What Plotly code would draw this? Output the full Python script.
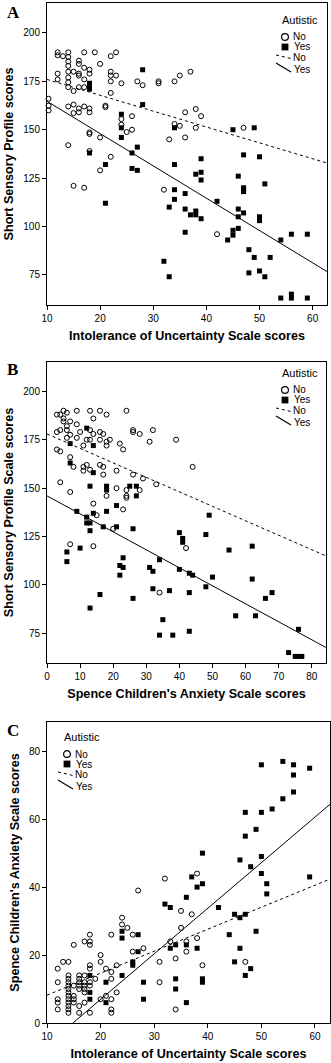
import plotly.graph_objects as go

# ---------------- Panel A: IUS vs Short Sensory Profile ----------------
a_no_x = [12, 12, 13, 14, 14, 14, 14, 16, 16, 17, 19, 22, 23, 12, 12, 14, 14, 14, 15, 16,
          16, 17, 18, 18, 17, 20, 22, 22, 23, 22, 24, 27, 28, 31, 31, 34, 35, 37, 14, 15,
          16, 17, 22, 10.3, 10.3, 10.3, 14, 15, 16, 15, 16, 17, 18, 18, 21, 21, 14, 18, 18, 20,
          24, 24, 26, 25, 26, 22, 20, 34, 35, 36, 36, 38, 39, 38, 33, 47, 15, 17, 32, 42,
          18]
a_no_y = [190, 188.5, 188, 190, 187.6, 185.3, 183, 185.7, 184, 190, 190, 188, 190, 179, 176, 180, 177, 174.5, 180, 179,
          178, 182, 181, 179, 176, 184, 180, 178, 178, 175, 174, 175, 173, 175, 174, 175, 178, 180, 172, 170,
          172, 172, 169, 166, 162.4, 160, 162, 163, 161, 158.6, 159, 162, 161, 159, 162.4, 161.7, 142, 148.6, 147.8, 146,
          155.5, 152.6, 157, 148.8, 150, 136, 129, 153, 152, 159, 146, 160.7, 157, 151, 145, 151, 121, 120, 119, 96,
          139]
a_yes_x = [18, 18, 18, 28, 28, 24, 24, 24, 18, 27, 26, 26, 27, 21, 34, 34, 39, 47, 50, 45,
           49, 38, 39, 46, 21, 39, 47, 47, 47, 51, 34, 34, 36, 33, 42, 36, 37, 38, 38, 39,
           46, 47, 46, 50, 50, 36, 44, 45, 46, 48, 49, 52, 54, 56, 59, 32, 33, 48, 50, 51,
           54, 56, 56, 59, 45]
a_yes_y = [174, 173, 171, 181, 163, 158, 151, 146, 138, 141, 138, 130, 129, 132, 151, 132, 135, 137, 136, 150,
           151, 127, 128, 126, 112, 124, 120, 119, 118, 122, 119, 114, 117, 110, 113, 109, 106, 106, 108, 104,
           109, 107, 105, 105, 103, 97, 93, 95.5, 99, 88, 84, 84, 93, 96, 96, 82, 74, 76, 77, 74,
           63, 65, 63, 63, 98]
# fitted regression lines: [value at x = 0, slope]
a_fit_no = [184.2, -0.82]
a_fit_yes = [181.4, -1.67]

# ---------------- Panel B: SCAS vs Short Sensory Profile ----------------
b_no_x = [3, 4, 5, 6, 9, 13, 16, 18, 24, 14, 9, 10, 9, 13, 14, 13, 12, 11, 16, 17,
          16, 18, 19, 18, 22, 23, 26, 26, 28, 32, 31, 39, 44, 3, 4, 7, 8, 11, 11, 12,
          13, 16, 17, 17, 21, 26, 29, 33, 4, 7, 21, 18, 24, 24, 24, 28, 14, 15, 23, 7,
          14, 42, 34, 20, 5, 5, 7, 6, 4, 3, 6, 7, 6]
b_no_y = [188, 188, 190, 189, 190, 190, 190, 188, 190, 186, 183, 179, 176, 180, 178, 175, 175, 172, 179, 178,
          175, 174, 175, 172, 173, 170, 180, 179, 178, 180, 174, 175, 161, 170, 169, 166, 161, 161, 159, 162,
          159.5, 162, 161, 157, 159, 157, 155, 152, 153, 148, 150, 146, 149, 146, 145, 149, 142, 136, 139, 121,
          120, 119, 96, 129, 186, 184.5, 184.5, 182, 180, 179, 180, 177.6, 176]
b_yes_x = [12, 7, 14, 7, 14, 13, 18, 18, 25, 27, 27, 21, 18, 9, 12, 14, 12, 13, 49, 13,
           17, 21, 26, 6, 6, 10, 22, 22, 23, 23, 16, 13, 26, 31, 32, 34, 32, 37, 40, 41,
           41, 40, 43, 44, 43, 48, 48, 50, 55, 62, 62, 35, 34, 38, 43, 57, 63, 66, 68, 76,
           73, 75, 76, 77]
b_yes_y = [181, 173, 172, 163, 158, 151, 151, 149, 151, 151, 146, 141, 138, 138, 135, 137, 132, 132, 136, 128,
           130, 130, 129, 117, 112, 119, 110, 105, 114, 109, 95, 88, 93, 109, 107, 113, 98, 97, 127, 124,
           122, 108, 106, 105, 96, 126, 99, 104, 118, 120, 103, 82, 74, 74, 76, 84, 84, 93, 96, 77,
           65, 63, 63, 63]
b_fit_no = [178.0, -0.748]
b_fit_yes = [146.0, -0.93]

# ---------------- Panel C: IUS vs SCAS ----------------
c_no_x = [38, 32, 27, 37, 35, 35, 33, 38, 36, 36, 34, 31, 31, 39, 47, 34, 26, 28, 24, 24,
          25, 26, 22, 20, 20, 21, 22, 23, 22, 23, 21, 20, 22, 22, 22, 17, 18, 18, 15, 12,
          12, 13, 14, 12, 12, 12, 18, 14, 14, 14, 14, 14, 14, 14, 14, 14, 14, 14, 14, 15,
          15, 15, 15, 16, 16, 16, 16, 16, 16, 16, 17, 17, 17, 17, 17, 17, 18, 18, 18, 18,
          18, 19]
c_no_y = [44, 42.5, 39, 32, 33, 28, 24, 25, 24, 21, 19, 18, 12, 17, 18, 4, 21, 22, 31, 29,
          28, 26, 26, 20, 18, 16, 15, 17, 13, 9, 8, 7, 7, 4, 3, 24, 24, 23, 23, 16,
          12, 18, 18, 7, 6, 4, 26, 14, 13, 12, 11, 10, 9, 8, 7, 6, 5, 4, 3, 11,
          8, 7, 6, 14, 13, 12, 11, 10, 5, 3, 14, 12, 11, 10, 9, 6, 17, 16, 12, 11,
          3, 13]
c_yes_x = [50, 54, 56, 56, 59, 47, 50, 52, 54, 56, 47, 49, 39, 46, 50, 48, 50, 37, 59, 39,
           38, 36, 32, 33, 42, 51, 51, 45, 47, 46, 44, 49, 24, 24, 27, 27, 33, 34, 36, 38,
           46, 45, 48, 47, 26, 26, 18, 24, 21, 18, 18, 28, 28, 34, 34, 39, 39, 36, 21]
c_yes_y = [76, 77, 76, 73, 75, 62, 62, 63, 66, 68, 55, 57, 50, 48, 49, 46, 44, 43, 43, 41,
           40, 37, 35, 34, 34, 41, 38, 32, 32, 31, 26, 27, 27, 25, 26, 21, 22, 23, 23, 22,
           22, 18, 16, 14, 18, 17, 14, 14, 12, 9, 7, 12, 7, 13, 10, 13, 12, 6, 6]
c_fit_no = [1.73, 0.647]
c_fit_yes = [-19.9, 1.342]

legend_title = "Autistic"
group_labels = ["No", "Yes"]

for nm, xs, ys in [("a_no", a_no_x, a_no_y), ("a_yes", a_yes_x, a_yes_y),
                   ("b_no", b_no_x, b_no_y), ("b_yes", b_yes_x, b_yes_y),
                   ("c_no", c_no_x, c_no_y), ("c_yes", c_yes_x, c_yes_y)]:
    if len(xs) != len(ys):
        raise ValueError(f"{nm}: {len(xs)} x vs {len(ys)} y")

FONT = "Liberation Sans, Arial, sans-serif"
W, H = 331.0, 1063.0

panels = [
    dict(ax="x", ay="y", no=(a_no_x, a_no_y), yes=(a_yes_x, a_yes_y),
         fno=a_fit_no, fyes=a_fit_yes, xr=[10, 62.7], yes_x0=10),
    dict(ax="x2", ay="y2", no=(b_no_x, b_no_y), yes=(b_yes_x, b_yes_y),
         fno=b_fit_no, fyes=b_fit_yes, xr=[0, 84.3], yes_x0=0),
    dict(ax="x3", ay="y3", no=(c_no_x, c_no_y), yes=(c_yes_x, c_yes_y),
         fno=c_fit_no, fyes=c_fit_yes, xr=[10, 62.8], yes_x0=14.8),
]

fig = go.Figure()
for p in panels:
    fig.add_trace(go.Scatter(
        x=p["no"][0], y=p["no"][1], mode="markers", name=group_labels[0], showlegend=False,
        marker=dict(symbol="circle-open", size=5, color="black", line=dict(width=1)),
        xaxis=p["ax"], yaxis=p["ay"], cliponaxis=False))
    fig.add_trace(go.Scatter(
        x=p["yes"][0], y=p["yes"][1], mode="markers", name=group_labels[1], showlegend=False,
        marker=dict(symbol="square", size=5, color="black"),
        xaxis=p["ax"], yaxis=p["ay"], cliponaxis=False))
    fx = p["xr"]
    fig.add_trace(go.Scatter(
        x=fx, y=[p["fno"][0] + p["fno"][1] * v for v in fx], showlegend=False,
        mode="lines", name=group_labels[0], line=dict(color="black", width=1, dash="dot"),
        xaxis=p["ax"], yaxis=p["ay"]))
    fyx = [p["yes_x0"], p["xr"][1]]
    fig.add_trace(go.Scatter(
        x=fyx, y=[p["fyes"][0] + p["fyes"][1] * v for v in fyx], showlegend=False,
        mode="lines", name=group_labels[1], line=dict(color="black", width=1),
        xaxis=p["ax"], yaxis=p["ay"]))


def ydom(top, bottom):
    return [1 - bottom / H, 1 - top / H]


axis_common = dict(showline=True, mirror=True, linecolor="black", linewidth=1,
                   ticks="outside", ticklen=4, tickcolor="black", showgrid=False,
                   zeroline=False, tickfont=dict(family=FONT, size=10, color="black"),
                   automargin=False)
title_font = dict(family=FONT, size=12.6, color="black", weight="bold")

fig.update_layout(
    width=331, height=1063, margin=dict(l=0, r=0, t=0, b=0),
    paper_bgcolor="white", plot_bgcolor="white", showlegend=False,
    xaxis=dict(domain=[47 / W, 327 / W], range=[10, 62.7], tickvals=[10, 20, 30, 40, 50, 60],
               anchor="y", title=dict(text="Intolerance of Uncertainty Scale scores",
                                      font=title_font, standoff=8), **axis_common),
    yaxis=dict(domain=ydom(3, 305), range=[59.4, 215.5], tickvals=[75, 100, 125, 150, 175, 200],
               anchor="x", title=dict(text="Short Sensory Profile scores", font=title_font,
                                      standoff=6), **axis_common),
    xaxis2=dict(domain=[47 / W, 326 / W], range=[0, 84.3], tickvals=list(range(0, 81, 10)),
                anchor="y2", title=dict(text="Spence Children's Anxiety Scale scores",
                                        font=title_font, standoff=8), **axis_common),
    yaxis2=dict(domain=ydom(362, 663), range=[59.6, 215.2], tickvals=[75, 100, 125, 150, 175, 200],
                anchor="x2", title=dict(text="Short Sensory Profile Scale scores", font=title_font,
                                        standoff=6), **axis_common),
    xaxis3=dict(domain=[47 / W, 330 / W], range=[10, 62.8], tickvals=[10, 20, 30, 40, 50, 60],
                anchor="y3", title=dict(text="Intolerance of Uncertainty Scale scores",
                                        font=title_font, standoff=8), **axis_common),
    yaxis3=dict(domain=ydom(722, 1023), range=[0, 88.6], tickvals=[0, 20, 40, 60, 80],
                anchor="x3", title=dict(text="Spence Children's Anxiety Scale scores",
                                        font=title_font, standoff=6), **axis_common),
)


def px(x):
    return x / W


def py(y):
    return 1 - y / H


def add_legend(left, cy):
    """Legend box drawn with paper-positioned shapes/text; left, cy in pixels."""
    fig.add_annotation(text=legend_title, xref="paper", yref="paper", x=px(left), y=py(cy),
                       xanchor="left", yanchor="middle", showarrow=False,
                       font=dict(family=FONT, size=11, color="black"))
    r = 3.4
    mx, my = left + 5, cy + 17
    fig.add_shape(type="circle", xref="paper", yref="paper",
                  x0=px(mx - r), x1=px(mx + r), y0=py(my + r), y1=py(my - r),
                  line=dict(color="black", width=1.2), fillcolor="white")
    sy = cy + 27
    fig.add_shape(type="rect", xref="paper", yref="paper",
                  x0=px(mx - r), x1=px(mx + r), y0=py(sy + r), y1=py(sy - r),
                  line=dict(color="black", width=0), fillcolor="black")
    fig.add_shape(type="line", xref="paper", yref="paper",
                  x0=px(left - 4), y0=py(cy + 35), x1=px(left + 11), y1=py(cy + 38.5),
                  line=dict(color="black", width=1, dash="dot"))
    fig.add_shape(type="line", xref="paper", yref="paper",
                  x0=px(left - 4), y0=py(cy + 43), x1=px(left + 11), y1=py(cy + 52),
                  line=dict(color="black", width=1.2))
    for lab, dx, dy in [(group_labels[0], 11, 17), (group_labels[1], 12, 27),
                        (group_labels[0], 11, 37.5), (group_labels[1], 12, 49.5)]:
        fig.add_annotation(text=lab, xref="paper", yref="paper", x=px(left + dx), y=py(cy + dy),
                           xanchor="left", yanchor="middle", showarrow=False,
                           font=dict(family=FONT, size=10, color="black"))


add_legend(280, 20)
add_legend(280, 373)
add_legend(62, 737)

for letter, ly in [("A", 1), ("B", 358), ("C", 719)]:
    fig.add_annotation(text="<b>%s</b>" % letter, xref="paper", yref="paper",
                       x=5 / W, y=1 - ly / H, xanchor="left", yanchor="top", showarrow=False,
                       font=dict(family="Liberation Serif, Times New Roman, serif", size=17,
                                 color="black"))

fig.write_html("out.html", config={"displayModeBar": False},
               post_script="document.body.style.margin='0px';")
